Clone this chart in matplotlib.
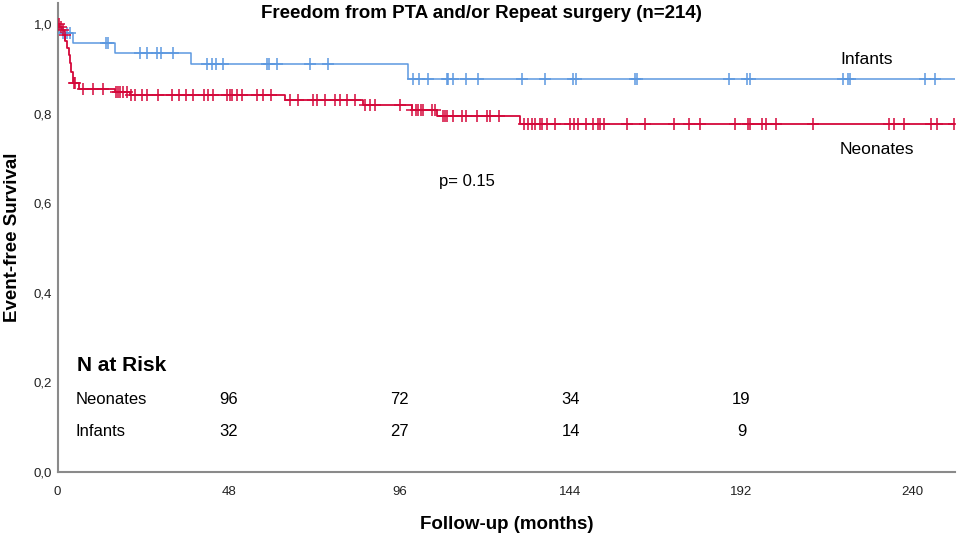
import numpy as np
import matplotlib
matplotlib.use("Agg")
import matplotlib.pyplot as plt

plt.rcParams['font.family'] = ['Liberation Sans', 'DejaVu Sans']

# --- 資料 (從圖上讀取的估計值) ---
# Infants: 事件時間 (月) 與存活率
infants_t = [0, 0.7, 4.2, 16.0, 37.4, 98.4]
infants_s = [1.0, 0.979, 0.957, 0.935, 0.910, 0.877]
infants_censor = [1.5, 2.5, 3.6, 13.5, 14.2, 23.1, 25.2, 27.8, 28.9, 32.3,
                  41.9, 43.3, 44.4, 46.5, 58.7, 59.3, 61.7, 70.9, 76.0,
                  99.7, 101.6, 104.1, 109.3, 109.7, 111.0, 114.7, 118.1, 130.5,
                  136.9, 144.8, 145.6, 162.2, 162.8, 188.4, 193.5, 194.3,
                  220.5, 221.8, 222.6, 243.6, 246.4]

# Neonates
neonates_t = [0, 0.4, 1.2, 1.7, 2.2, 2.6, 3.1, 3.6, 3.8, 4.4, 5.9, 16.1,
              20.3, 63.9, 85.8, 99.4, 106.4, 129.8]
neonates_s = [1.0, 0.994, 0.987, 0.975, 0.962, 0.946, 0.930, 0.912, 0.893,
              0.868, 0.855, 0.848, 0.842, 0.830, 0.819, 0.809, 0.795, 0.777]
neonates_censor = [0.3, 0.9, 1.5, 2.0, 4.6, 5.0, 7.2, 10.0, 12.8, 16.3, 17.0,
                   17.5, 18.4, 19.4, 20.5, 21.7, 23.6, 25.2, 28.3, 32.0, 34.2,
                   36.0, 37.9, 41.1, 42.3, 43.5, 47.5, 48.4, 48.9, 50.3, 51.7,
                   56.1, 57.6, 59.9, 65.3, 67.6, 71.8, 72.8, 75.1, 77.9, 79.3,
                   81.2, 83.5, 86.3, 87.7, 89.1, 96.2, 99.6, 100.5, 101.3, 102.0,
                   102.5, 105.0, 106.0, 108.3, 108.8, 109.4, 111.1, 113.5, 114.7,
                   117.7, 120.5, 121.4, 123.8, 131.0, 132.2, 133.1, 134.1, 135.3,
                   136.0, 137.4, 139.7, 143.9, 145.0, 146.2, 148.4, 150.3, 151.6,
                   152.3, 153.3, 159.8, 165.0, 173.1, 177.3, 180.4, 190.1, 193.7,
                   194.5, 197.8, 199.0, 201.7, 212.2, 233.3, 234.7, 237.7, 245.2,
                   246.9, 251.6]

end_time = 252.0

# N at risk
risk_times = [48, 96, 144, 192]
risk_neonates = [96, 72, 34, 19]
risk_infants = [32, 27, 14, 9]

x_ticks = [0, 48, 96, 144, 192, 240]
y_ticks = [0.0, 0.2, 0.4, 0.6, 0.8, 1.0]

color_inf = "#5c98e0"
color_neo = "#d4083a"


def 畫曲線(ax, t, s, censor, color, lw):
    tt = list(t) + [end_time]
    ss = list(s) + [s[-1]]
    ax.step(tt, ss, where='post', color=color, lw=lw, zorder=3)
    idx = np.searchsorted(t, censor, side='right') - 1
    cy = np.array(s)[idx]
    ax.plot(censor, cy, linestyle='none', marker='+', markersize=8,
            markeredgewidth=1.1, color=color, zorder=4)


fig = plt.figure(figsize=(9.6, 5.33), dpi=100)
ax = fig.add_axes([0.060, 0.1144, 0.935, 0.880])

畫曲線(ax, infants_t, infants_s, infants_censor, color_inf, 1.1)
畫曲線(ax, neonates_t, neonates_s, neonates_censor, color_neo, 1.3)

ax.set_xlim(0, end_time)
ax.set_ylim(0, 1.047)
ax.set_xticks(x_ticks)
ax.set_yticks(y_ticks)
ax.set_yticklabels([f"{v:.1f}".replace('.', ',') for v in y_ticks])
ax.tick_params(length=0, labelsize=9.5, colors='#222222')
ax.tick_params(axis='x', pad=10)
ax.tick_params(axis='y', pad=4)
for side in ['top', 'right']:
    ax.spines[side].set_visible(False)
for side in ['left', 'bottom']:
    ax.spines[side].set_color('#8a8a8a')
    ax.spines[side].set_linewidth(1.5)

ax.set_xlabel("Follow-up (months)", fontsize=13.5, fontweight='bold', labelpad=13)
ax.set_ylabel("Event-free Survival", fontsize=13.5, fontweight='bold', labelpad=9)

fig.text(0.502, 0.975, "Freedom from PTA and/or Repeat surgery (n=214)",
         ha='center', va='center', fontsize=13.5, fontweight='bold')

ax.text(227, 0.921, "Infants", ha='center', va='center', fontsize=12.5)
ax.text(230, 0.720, "Neonates", ha='center', va='center', fontsize=12.5)
ax.text(115, 0.648, "p= 0.15", ha='center', va='center', fontsize=12)

ax.text(5.5, 0.238, "N at Risk", ha='left', va='center', fontsize=15, fontweight='bold')
ax.text(5.0, 0.163, "Neonates", ha='left', va='center', fontsize=12)
ax.text(5.0, 0.090, "Infants", ha='left', va='center', fontsize=12)
for x, a, b in zip(risk_times, risk_neonates, risk_infants):
    ax.text(x, 0.163, str(a), ha='center', va='center', fontsize=12)
    ax.text(x, 0.090, str(b), ha='center', va='center', fontsize=12)

fig.savefig("out.png", dpi=100)
